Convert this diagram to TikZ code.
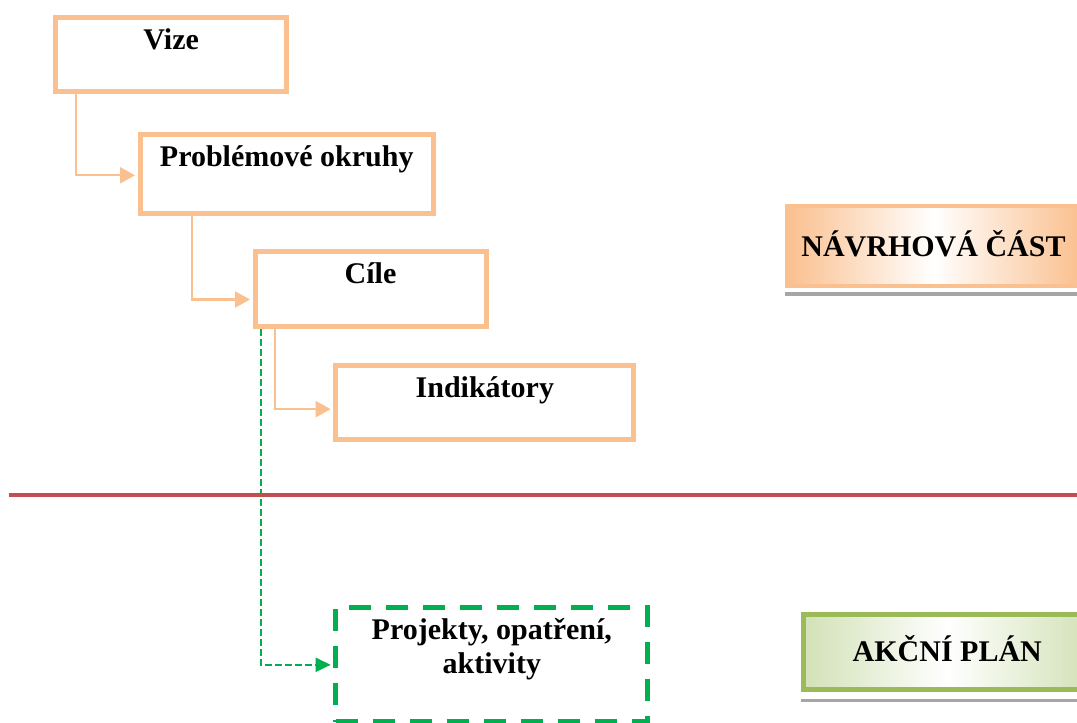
\documentclass[tikz,border=0pt]{standalone}
\usepackage{fontspec}
\setmainfont{Liberation Serif}
\usetikzlibrary{arrows.meta,positioning}
\definecolor{boxorange}{HTML}{FAC090}
\definecolor{planlinegreen}{HTML}{00B050}
\definecolor{sepred}{HTML}{C0504D}
\definecolor{plangreen}{HTML}{9BBB59}
\definecolor{planfill}{HTML}{D2E1B6}
\definecolor{partfill}{HTML}{FAC08F}

\begin{document}
\begin{tikzpicture}[
    x=0.4pt, y=-0.4pt,
    >=Latex,
    font=\fontsize{12pt}{13.6pt}\selectfont\bfseries,
    block/.style={
        rectangle,
        draw=boxorange,
        line width=2pt,
        inner sep=0pt,
        anchor=north west,
        align=center,
        text height=12.8pt,
        text depth=16.6pt
    },
    actionblock/.style={
        block,
        draw=planlinegreen,
        dash pattern=on 8.8pt off 6pt
    },
    partblock/.style={
        rectangle,
        inner sep=0pt,
        anchor=west,
        text height=8pt,
        text depth=0pt
    },
    line/.style={draw=boxorange, line width=0.9pt, -{Triangle[length=6pt,width=6.4pt]}},
    dashline/.style={draw=planlinegreen, line width=0.8pt, dash pattern=on 2.6pt off 1.4pt,
        -{Triangle[length=6pt,width=5.6pt]}},
    sepline/.style={draw=sepred, line width=1.6pt},
    shadowstrip/.style={fill=black!35}
]
\useasboundingbox (0,0) rectangle (1077,722);

% Main blocks
\node[block, minimum width=92.4pt] (vize) at (53.2,15.2) {Vize};

\node[block, minimum width=117.4pt, text depth=19pt] (problem) at (137.5,131.8) {Problémové okruhy};

\node[block, minimum width=92.4pt, text depth=17.2pt] (cile) at (252.5,249) {Cíle};

\node[block, minimum width=119.3pt, text depth=16.9pt] (indik) at (333.2,362.5) {Indikátory};

\node[actionblock, minimum width=124.9pt, text height=26.4pt, text depth=19.3pt] (akce) at (333.2,605.2) {Projekty, opatření,\\aktivity};

% Main flow arrows
\draw[line] ([xshift=9pt]vize.south west) |- ([xshift=-1pt,yshift=-0.5pt]problem.west);
\draw[line] ([xshift=21.9pt]problem.south west) |- ([xshift=-1pt,yshift=-4.2pt]cile.west);
\draw[line] ([xshift=9pt]cile.south west) |- ([xshift=-1pt,yshift=-2.8pt]indik.west);
\draw[dashline] ([xshift=3.4pt]cile.south west) |- ([xshift=-1pt]akce.west);

% Separator
\coordinate (sepleft) at (9,494.7);
\coordinate (sepright) at (1077,494.7);
\draw[sepline] (sepleft) -- (sepright);

% Part labels
\node[partblock, draw=partfill, line width=1.6pt,
    left color=partfill, right color=partfill, middle color=white,
    minimum width=117.2pt, minimum height=32pt] (navrh) at (785,246) {NÁVRHOVÁ ČÁST};
\fill[shadowstrip] ([yshift=-1.6pt]navrh.south west) rectangle ([yshift=-3.2pt]navrh.south east);

\node[partblock, draw=plangreen, line width=2pt,
    left color=planfill, right color=planfill, middle color=white,
    minimum width=115.4pt, minimum height=30pt] (plan) at (800.5,651.7) {AKČNÍ PLÁN};
\fill[shadowstrip] ([yshift=-2.8pt]plan.south west) rectangle ([yshift=-4.1pt]plan.south east);

\end{tikzpicture}
\end{document}
